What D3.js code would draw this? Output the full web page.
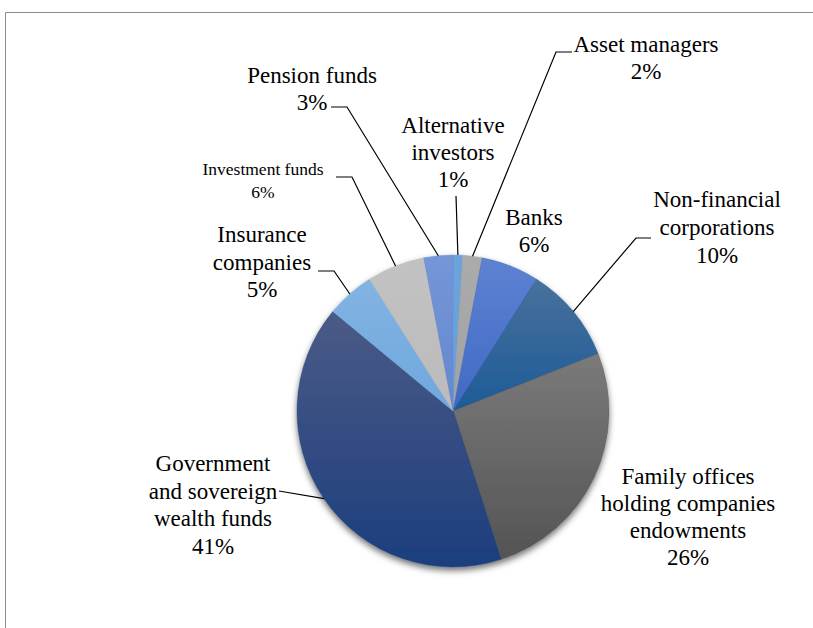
<!DOCTYPE html>
<html>
<head>
<meta charset="utf-8">
<script src="https://cdn.jsdelivr.net/npm/d3@7/dist/d3.min.js"></script>
</head>
<body style="margin:0">
<svg id="chart" width="813" height="628"></svg>
<script>
// Investor categories, clockwise from twelve o'clock
const categories = [
  "Alternative investors",
  "Asset managers",
  "Banks",
  "Non-financial corporations",
  "Family offices holding companies endowments",
  "Government and sovereign wealth funds",
  "Insurance companies",
  "Investment funds",
  "Pension funds"
];

// Share of investors, in percent
const shares = [1, 2, 6, 10, 26, 41, 5, 6, 3];

// Label lines shown above each percentage
const labelLines = [
  ["Alternative", "investors"],
  ["Asset managers"],
  ["Banks"],
  ["Non-financial", "corporations"],
  ["Family offices", "holding companies", "endowments"],
  ["Government", "and sovereign", "wealth funds"],
  ["Insurance", "companies"],
  ["Investment funds"],
  ["Pension funds"]
];

// Slice fills: [top colour, bottom colour]
const sliceColors = [
  ["#6DA3DD", "#66A0DA"],
  ["#ABABAB", "#A2A2A2"],
  ["#5E82D2", "#3F69C5"],
  ["#48719B", "#1D5B98"],
  ["#7A7A7A", "#545454"],
  ["#4B5B86", "#1C3E7E"],
  ["#82B4E3", "#70A7DD"],
  ["#C2C2C2", "#BBBBBB"],
  ["#7596D7", "#6487CF"]
];

// Label placement: block centre x, first baseline y, line height, font size, leader start
const labelLayout = [
  { x: 453, y: 133, lh: 27, fs: 23, leader: [456, 196] },
  { x: 646, y: 52,  lh: 27, fs: 23, leader: [572, 52], elbow: [556, 52] },
  { x: 534, y: 225, lh: 27, fs: 23 },
  { x: 717, y: 207, lh: 28, fs: 23, leader: [651, 238], elbow: [636, 238] },
  { x: 688, y: 484, lh: 27, fs: 23 },
  { x: 213, y: 471, lh: 27.5, fs: 23, leader: [279, 491] },
  { x: 262, y: 242, lh: 27.5, fs: 23, leader: [318, 271], elbow: [334, 271] },
  { x: 263, y: 175, lh: 23, fs: 17.5, leader: [336, 177], elbow: [352, 177] },
  { x: 312, y: 83,  lh: 27, fs: 23, leader: [331, 107], elbow: [347, 107] }
];

const svg = d3.select("#chart");
const W = 813, H = 628;

// Plot frame (open towards the right and bottom edges)
svg.append("path")
  .attr("d", `M5.5,${H + 1} V12.5 H${W + 1}`)
  .attr("fill", "none")
  .attr("stroke", "#8c8c8c")
  .attr("stroke-width", 1);

const cx = 453, cy = 411, R = 156;

const defs = svg.append("defs");
const shadow = defs.append("filter")
  .attr("id", "pieShadow")
  .attr("x", "-20%").attr("y", "-20%")
  .attr("width", "140%").attr("height", "140%");
shadow.append("feDropShadow")
  .attr("dx", 0).attr("dy", 3.5)
  .attr("stdDeviation", 3)
  .attr("flood-color", "#000")
  .attr("flood-opacity", 0.55);

sliceColors.forEach((c, i) => {
  const g = defs.append("linearGradient")
    .attr("id", "slice" + i)
    .attr("x1", 0).attr("y1", 0).attr("x2", 0).attr("y2", 1);
  g.append("stop").attr("offset", "0%").attr("stop-color", c[0]);
  g.append("stop").attr("offset", "100%").attr("stop-color", c[1]);
});

const data = categories.map((name, i) => ({ name, value: shares[i], i }));

const pie = d3.pie()
  .sort(null)
  .value(d => d.value)
  .startAngle(0)
  .endAngle(2 * Math.PI);

const arcs = pie(data);
const arc = d3.arc().innerRadius(0).outerRadius(R);

const pieG = svg.append("g")
  .attr("transform", `translate(${cx},${cy})`)
  .attr("filter", "url(#pieShadow)");

pieG.selectAll("path.slice")
  .data(arcs)
  .join("path")
  .attr("class", "slice")
  .attr("d", arc)
  .attr("fill", d => `url(#slice${d.data.i})`)
  .attr("stroke", d => sliceColors[d.data.i][1])
  .attr("stroke-width", 0.4);

// Leader lines from labels to the middle of each slice's outer edge
arcs.forEach(a => {
  const L = labelLayout[a.data.i];
  if (!L.leader) return;
  const mid = (a.startAngle + a.endAngle) / 2;
  const ex = cx + R * Math.sin(mid);
  const ey = cy - R * Math.cos(mid);
  const pts = [L.leader];
  if (L.elbow) pts.push(L.elbow);
  pts.push([ex, ey]);
  svg.append("path")
    .attr("d", d3.line()(pts))
    .attr("fill", "none")
    .attr("stroke", "#000")
    .attr("stroke-width", 1.2);
});

// Category labels with percentages, one text element per line
data.forEach(d => {
  const L = labelLayout[d.i];
  const lines = labelLines[d.i].concat([`${d.value}%`]);
  lines.forEach((s, k) => {
    svg.append("text")
      .attr("x", L.x)
      .attr("y", L.y + k * L.lh)
      .attr("text-anchor", "middle")
      .attr("font-family", '"Liberation Serif"')
      .attr("font-size", L.fs)
      .text(s);
  });
});
</script>
</body>
</html>
